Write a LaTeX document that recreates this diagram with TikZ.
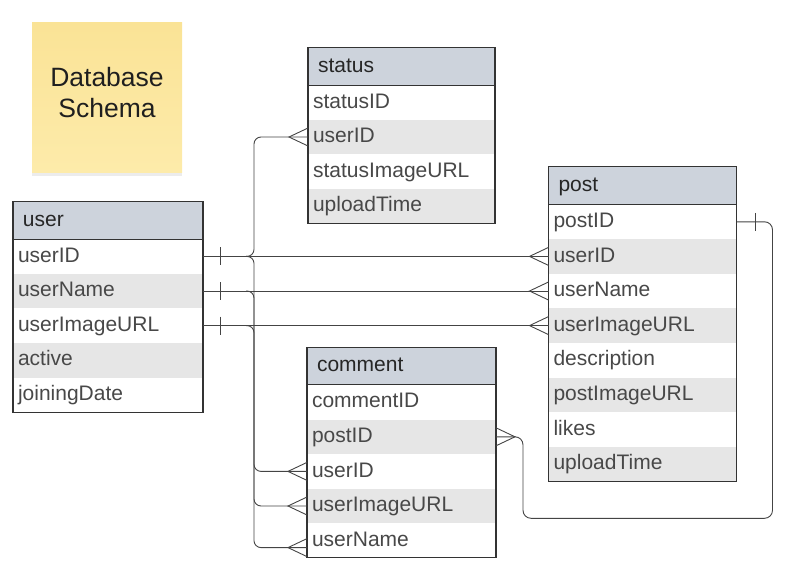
\documentclass[tikz,border=0pt]{standalone}
\usepackage{fontspec}
\setmainfont{Liberation Sans}
\usetikzlibrary{positioning, shadows}
\definecolor{headfill}{RGB}{205,211,220}
\definecolor{rowgray}{RGB}{230,230,230}
\definecolor{edgegray}{RGB}{51,51,51}
\definecolor{rowtext}{RGB}{72,72,72}
\definecolor{linkgray}{RGB}{68,68,68}
\definecolor{notetop}{RGB}{250,227,150}
\definecolor{notebot}{RGB}{253,235,170}

\begin{document}
\begin{tikzpicture}[x=1pt,y=-1pt,node distance=0pt,
  font=\fontsize{21}{25}\selectfont,
  row/.style={text width=#1,inner xsep=5pt,inner ysep=0pt,outer sep=0pt,
    minimum height=34.6pt,text height=15pt,text depth=3.5pt,align=left,text=rowtext},
  grow/.style={row=#1,fill=rowgray},
  head/.style={text width=#1,inner xsep=10pt,inner ysep=0pt,outer sep=0pt,
    minimum height=37.6pt,text height=15pt,text depth=3.5pt,align=left,
    fill=headfill,draw=edgegray,line width=1.1pt,text=black!85,anchor=north west},
  box/.style={draw=edgegray,line width=1.1pt},
  link/.style={draw=linkgray,line width=0.9pt},
  note/.style={minimum width=150pt,minimum height=150pt,top color=notetop,
    bottom color=notebot,drop shadow={opacity=0.15,shadow xshift=0pt,shadow yshift=-4pt}},
  onebar/.pic={\draw[link] (0,-9) -- (0,9);},
  crowfoot/.pic={\draw[link] (0,-9) -- (-19,0) -- (0,9);}]
  \useasboundingbox (0,0) rectangle (788,570);

  % sticky note
  \node[note] (note) at (107,97) {};
  \node[align=center,text=black!88,font=\fontsize{26.5}{31}\selectfont]
    (title) at ([yshift=4.5pt]note.center) {Database\\Schema};

  % user
  \node[head=170pt] (u0) at (13,201.5) {user};
  \node[row=180pt, below=of u0] (u1) {userID};
  \node[grow=180pt, below=of u1] (u2) {userName};
  \node[row=180pt, below=of u2] (u3) {userImageURL};
  \node[grow=180pt, below=of u3] (u4) {active};
  \node[row=180pt, below=of u4] (u5) {joiningDate};
  \draw[box] (u0.north west) rectangle (u5.south east);

  % status
  \node[head=167pt] (s0) at (308,47.5) {status};
  \node[row=177pt, below=of s0] (s1) {statusID};
  \node[grow=177pt, below=of s1] (s2) {userID};
  \node[row=177pt, below=of s2] (s3) {statusImageURL};
  \node[grow=177pt, below=of s3] (s4) {uploadTime};
  \draw[box] (s0.north west) rectangle (s4.south east);

  % post
  \node[head=168pt] (p0) at (548.5,166.9) {post};
  \node[row=178pt, below=of p0] (p1) {postID};
  \node[grow=178pt, below=of p1] (p2) {userID};
  \node[row=178pt, below=of p2] (p3) {userName};
  \node[grow=178pt, below=of p3] (p4) {userImageURL};
  \node[row=178pt, below=of p4] (p5) {description};
  \node[grow=178pt, below=of p5] (p6) {postImageURL};
  \node[row=178pt, below=of p6] (p7) {likes};
  \node[grow=178pt, below=of p7] (p8) {uploadTime};
  \draw[box] (p0.north west) rectangle (p8.south east);

  % comment
  \node[head=169pt] (c0) at (307,347.3) {comment};
  \node[row=179pt, below=of c0] (c1) {commentID};
  \node[grow=179pt, below=of c1] (c2) {postID};
  \node[row=179pt, below=of c2] (c3) {userID};
  \node[grow=179pt, below=of c3] (c4) {userImageURL};
  \node[row=179pt, below=of c4] (c5) {userName};
  \draw[box] (c0.north west) rectangle (c5.south east);

  % relations
  \coordinate (bus) at (254,0);
  \path[link]
    (u1.east) edge (p2.west)
    (u2.east) edge (p3.west)
    (u3.east) edge (p4.west);
  \draw[link,rounded corners=7pt] (s2.west) -| (bus |- u1.east) -- ++(-8,0);
  \draw[link,rounded corners=7pt] (c3.west) -| (bus |- u1.east) -- ++(-8,0);
  \draw[link,rounded corners=7pt] (c4.west) -| (bus |- u3.east) -- ++(-8,0);
  \draw[link,rounded corners=7pt] ([yshift=-7pt]c5.west) -| (bus |- u2.east) -- ++(-8,0);
  \draw[link,rounded corners=8pt] (p1.east) -- ++(36,0) -- ++(0,296.5)
    -| ([xshift=27pt]c2.east) -- (c2.east);

  \pic at ([xshift=17pt]u1.east) {onebar};
  \pic at ([xshift=17pt]u2.east) {onebar};
  \pic at ([xshift=17pt]u3.east) {onebar};
  \pic at ([xshift=19pt]p1.east) {onebar};
  \pic at (s2.west) {crowfoot};
  \pic at (p2.west) {crowfoot};
  \pic at (p3.west) {crowfoot};
  \pic at (p4.west) {crowfoot};
  \pic at (c3.west) {crowfoot};
  \pic at (c4.west) {crowfoot};
  \pic at ([yshift=-7pt]c5.west) {crowfoot};
  \pic[rotate=180] at (c2.east) {crowfoot};
\end{tikzpicture}
\end{document}
